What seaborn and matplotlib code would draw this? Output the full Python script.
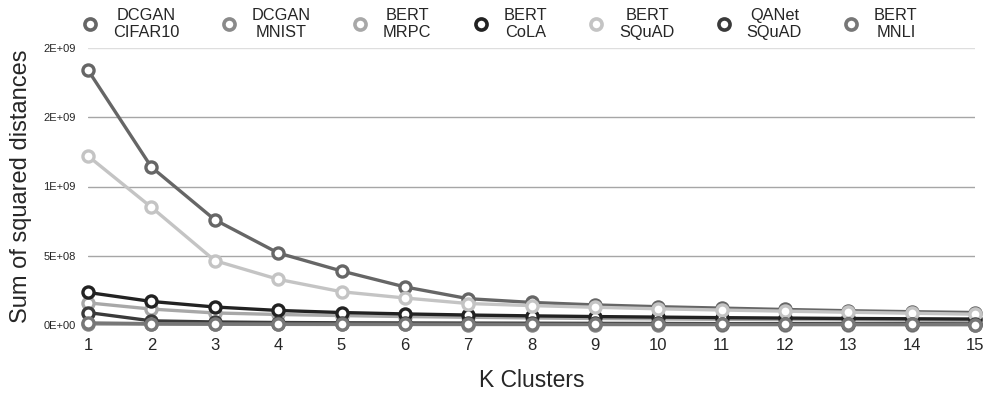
import matplotlib
matplotlib.use("Agg")
import matplotlib.pyplot as plt
from matplotlib.lines import Line2D
import seaborn as sns
import pandas as pd

k_clusters = list(range(1, 16))

series_names = ["DCGAN\nCIFAR10", "DCGAN\nMNIST", "BERT\nMRPC", "BERT\nCoLA",
                "BERT\nSQuAD", "QANet\nSQuAD", "BERT\nMNLI"]
series_colors = ["#666666", "#8a8a8a", "#a8a8a8", "#222222", "#c4c4c4", "#3a3a3a", "#777777"]

dcgan_cifar10 = [1.84e9, 1.14e9, 7.6e8, 5.2e8, 3.9e8, 2.75e8, 1.9e8, 1.63e8,
                 1.45e8, 1.32e8, 1.22e8, 1.12e8, 1.03e8, 0.96e8, 0.9e8]
dcgan_mnist = [0.8e7, 0.6e7, 0.5e7, 0.45e7, 0.4e7, 0.38e7, 0.35e7, 0.33e7,
               0.31e7, 0.3e7, 0.29e7, 0.28e7, 0.27e7, 0.26e7, 0.25e7]
bert_mrpc = [1.6e8, 1.15e8, 0.87e8, 0.76e8, 0.68e8, 0.61e8, 0.56e8, 0.51e8,
             0.47e8, 0.44e8, 0.41e8, 0.39e8, 0.37e8, 0.35e8, 0.33e8]
bert_cola = [2.35e8, 1.7e8, 1.3e8, 1.05e8, 0.9e8, 0.8e8, 0.72e8, 0.66e8,
             0.61e8, 0.57e8, 0.53e8, 0.5e8, 0.47e8, 0.45e8, 0.43e8]
bert_squad = [1.22e9, 8.5e8, 4.65e8, 3.3e8, 2.4e8, 1.95e8, 1.55e8, 1.4e8,
              1.28e8, 1.17e8, 1.08e8, 1.0e8, 0.92e8, 0.85e8, 0.78e8]
qanet_squad = [0.9e8, 0.3e8, 0.22e8, 0.18e8, 0.16e8, 0.15e8, 0.14e8, 0.13e8,
               0.12e8, 0.11e8, 0.1e8, 0.1e8, 0.09e8, 0.09e8, 0.08e8]
bert_mnli = [1.5e7, 1.0e7, 0.8e7, 0.7e7, 0.65e7, 0.6e7, 0.55e7, 0.5e7,
             0.48e7, 0.46e7, 0.44e7, 0.42e7, 0.4e7, 0.38e7, 0.36e7]

series_values = [dcgan_cifar10, dcgan_mnist, bert_mrpc, bert_cola,
                 bert_squad, qanet_squad, bert_mnli]

y_ticks = [0, 5e8, 1e9, 1.5e9, 2e9]
y_tick_labels = ["0E+00", "5E+08", "1E+09", "2E+09", "2E+09"]

rows = []
for name, vals in zip(series_names, series_values):
    for k, v in zip(k_clusters, vals):
        rows.append({"series": name, "k": k, "value": v})
df = pd.DataFrame(rows)

sns.set_theme(style="white")
plt.rcParams["font.family"] = ["Liberation Sans", "DejaVu Sans"]

fig = plt.figure(figsize=(9.86, 4.0), dpi=100)
ax = fig.add_axes([0.0893, 0.1875, 0.8997, 0.6925])

for yv in y_ticks[1:-1]:
    ax.axhline(yv, color="#a6a6a6", lw=1.0, zorder=0)
ax.axhline(y_ticks[-1], color="#dedede", lw=1.0, zorder=0)

draw_order = [1, 6, 5, 2, 3, 4, 0]
for i in draw_order:
    sub = df[df["series"] == series_names[i]]
    sns.lineplot(data=sub, x="k", y="value", ax=ax, color=series_colors[i],
                 linewidth=2.4, marker="o", markersize=8,
                 markerfacecolor="white", markeredgecolor=series_colors[i],
                 markeredgewidth=2.4, clip_on=False, legend=False, zorder=3 + i)

ax.set_xlim(1, 15)
ax.set_ylim(0, 2e9)
ax.set_xticks(k_clusters)
ax.set_xticklabels([str(k) for k in k_clusters], fontsize=12)
ax.set_yticks(y_ticks)
ax.set_yticklabels(y_tick_labels, fontsize=8)
ax.tick_params(axis="x", length=0, pad=9)
ax.tick_params(axis="y", length=0, pad=9)
for s in ax.spines.values():
    s.set_visible(False)
ax.grid(False)
ax.set_xlabel("K Clusters", fontsize=16.5, labelpad=12)
ax.set_ylabel("Sum of squared distances", fontsize=17, labelpad=8)

handles = [Line2D([], [], linestyle="none", marker="o", markersize=8,
                  markerfacecolor="white", markeredgecolor=c, markeredgewidth=2.6)
           for c in series_colors]
leg = fig.legend(handles, series_names, ncol=7, loc="upper center",
                 bbox_to_anchor=(0.507, 1.018), frameon=False, fontsize=11.8,
                 handlelength=1.0, handletextpad=0.9, columnspacing=2.5,
                 labelspacing=0.2)
for t in leg.get_texts():
    t.set_multialignment("center")
    t.set_linespacing(1.2)

fig.savefig("out.png", dpi=100)
